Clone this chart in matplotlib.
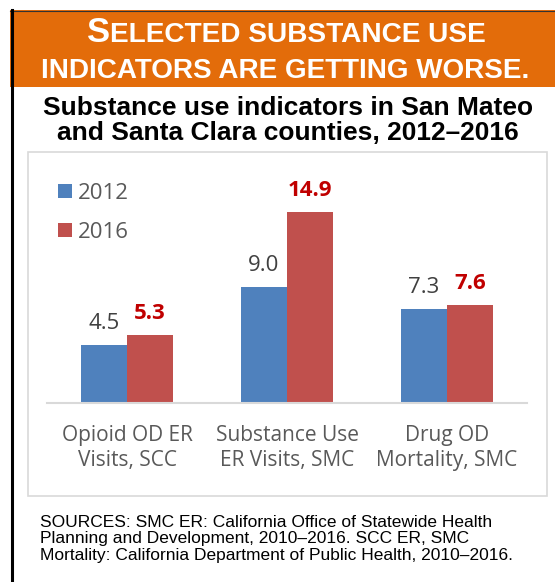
import matplotlib
matplotlib.use("Agg")
import matplotlib.pyplot as plt
from matplotlib.patches import Rectangle
from matplotlib.lines import Line2D
import numpy as np

categories = ["Opioid OD ER\nVisits, SCC", "Substance Use\nER Visits, SMC", "Drug OD\nMortality, SMC"]
series_names = ["2012", "2016"]
values_2012 = [4.5, 9.0, 7.3]
values_2016 = [5.3, 14.9, 7.6]
banner_line1 = ("S", "ELECTED SUBSTANCE USE")
banner_line2 = "INDICATORS ARE GETTING WORSE."
title_lines = ["Substance use indicators in San Mateo", "and Santa Clara counties, 2012\u20132016"]
source_lines = ["SOURCES: SMC ER: California Office of Statewide Health",
                "Planning and Development, 2010\u20132016. SCC ER, SMC",
                "Mortality: California Department of Public Health, 2010\u20132016."]

W, H = 555, 582
fig = plt.figure(figsize=(W / 100, H / 100), dpi=100)
fig.patch.set_facecolor("white")
fig.canvas.draw()
r = fig.canvas.get_renderer()

def fx(x): return x / W
def fy(y): return 1 - y / H

def width(t):
    return t.get_window_extent(r).width

def fit(t, target):
    t.set_fontsize(t.get_fontsize() * target / width(t))
    return t.get_fontsize()

# banner
fig.patches.append(Rectangle((fx(10), fy(87)), fx(545), (77) / H, transform=fig.transFigure,
                             facecolor="#E36C0A", edgecolor="none", zorder=0))
fig.lines.append(Line2D([fx(10), fx(555)], [fy(10.5), fy(10.5)], transform=fig.transFigure,
                        color="#333333", lw=0.8))
fig.lines.append(Line2D([fx(12), fx(12)], [fy(10), fy(582)], transform=fig.transFigure,
                        color="black", lw=2.2))

# chart panel border
fig.patches.append(Rectangle((fx(28), fy(496)), fx(519), (496 - 152) / H, transform=fig.transFigure,
                             facecolor="none", edgecolor="#D9D9D9", lw=1.2, zorder=0))

banner_font = dict(family=["Liberation Sans", "DejaVu Sans"], weight="bold", color="white")
t2 = fig.text(fx(285.5), fy(78.5), banner_line2, fontsize=19, ha="center", va="baseline", **banner_font)
fs2 = fit(t2, 489)
tA = fig.text(0, 0, banner_line1[0], fontsize=fs2 * 1.24, va="baseline", **banner_font)
tB = fig.text(0, 0, banner_line1[1], fontsize=fs2, va="baseline", **banner_font)
wA, wB = width(tA), width(tB)
k = 398 / (wA + wB)
tA.set_fontsize(tA.get_fontsize() * k)
tB.set_fontsize(tB.get_fontsize() * k)
wA, wB = width(tA), width(tB)
x0 = 286 - (wA + wB) / 2
tA.set_position((fx(x0), fy(42.5)))
tB.set_position((fx(x0 + wA), fy(42.5)))

# title
tt = []
for line, yb in zip(title_lines, [115, 140]):
    tt.append(fig.text(fx(288), fy(yb), line, fontsize=18.5, ha="center", va="baseline", weight="bold",
                       family=["Liberation Sans", "DejaVu Sans"], color="black"))
fsT = fit(tt[0], 492)
tt[1].set_fontsize(fsT)

# axes
scale = 12.8
ymax = 16
ax = fig.add_axes([fx(47), fy(402.5), fx(480), ymax * scale / H])
x = np.arange(len(categories))
bw = 0.2875
c12, c16 = "#4F81BD", "#C0504D"
ax.bar(x - bw / 2, values_2012, bw, color=c12, label=series_names[0])
ax.bar(x + bw / 2, values_2016, bw, color=c16, label=series_names[1])
ax.set_xlim(-0.5, 2.5)
ax.set_ylim(0, ymax)
for s in ["top", "left", "right"]:
    ax.spines[s].set_visible(False)
ax.spines["bottom"].set_color("#D9D9D9")
ax.spines["bottom"].set_linewidth(1.5)
ax.set_yticks([])
ax.set_xticks(x)
lab_font = ["Open Sans", "DejaVu Sans"]
ax.set_xticklabels(categories, fontsize=15, color="#595959", family=lab_font, linespacing=1.22)
ax.tick_params(axis="x", length=0, pad=16.5)
ax.patch.set_alpha(0)
for xi, v in zip(x, values_2012):
    ax.annotate(f"{v:.1f}", (xi - bw / 2, v), xytext=(0, 8), textcoords="offset points",
                ha="center", va="bottom", fontsize=16, color="#404040", family=lab_font)
for xi, v in zip(x, values_2016):
    ax.annotate(f"{v:.1f}", (xi + bw / 2, v), xytext=(0, 8), textcoords="offset points",
                ha="center", va="bottom", fontsize=16, color="#C00000", weight="bold", family=lab_font)

leg = ax.legend(loc="upper left", bbox_to_anchor=(fx(58), fy(183)), bbox_transform=fig.transFigure,
                frameon=False, handlelength=0.63, handleheight=0.63, handletextpad=0.27,
                labelspacing=0.8, borderpad=0, borderaxespad=0, prop=dict(family=lab_font, size=16))
for t in leg.get_texts():
    t.set_color("#595959")

# sources
ts = []
for line, yb in zip(source_lines, [527, 543.5, 560]):
    ts.append(fig.text(fx(40), fy(yb), line, fontsize=12, ha="left", va="baseline",
                       family=["Liberation Sans", "DejaVu Sans"], color="black"))
fsS = fit(ts[0], 453)
for t in ts:
    t.set_fontsize(fsS)

fig.savefig("out.png", dpi=100, facecolor="white")
